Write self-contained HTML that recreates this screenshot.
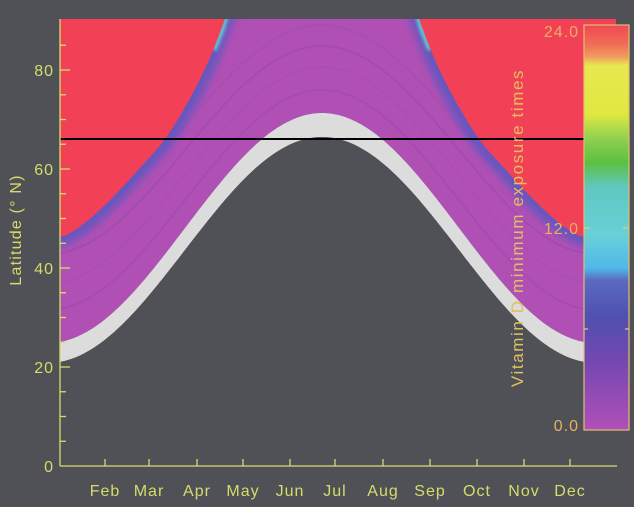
<!DOCTYPE html>
<html><head><meta charset="utf-8">
<style>
html,body{margin:0;padding:0;background:#4f5157;}
svg{display:block;}
text{font-family:"Liberation Sans","DejaVu Sans",sans-serif;}
</style></head>
<body>
<svg id="s" width="634" height="507" viewBox="0 0 634 507" xmlns="http://www.w3.org/2000/svg">
<defs>
<clipPath id="pc"><rect x="60" y="19" width="556" height="447"/></clipPath>
<filter id="bl" x="-20%" y="-20%" width="140%" height="140%"><feGaussianBlur stdDeviation="4"/></filter>
<filter id="bl2" x="-20%" y="-20%" width="140%" height="140%"><feGaussianBlur stdDeviation="1.5"/></filter>
<linearGradient id="cb" x1="0" y1="0" x2="0" y2="1">
<stop offset="0" stop-color="#f04852"/>
<stop offset="0.05" stop-color="#f07058"/>
<stop offset="0.08" stop-color="#f0a060"/>
<stop offset="0.10" stop-color="#e8e850"/>
<stop offset="0.22" stop-color="#e0e840"/>
<stop offset="0.28" stop-color="#90d050"/>
<stop offset="0.34" stop-color="#5cc040"/>
<stop offset="0.40" stop-color="#60c8c0"/>
<stop offset="0.52" stop-color="#68d0d8"/>
<stop offset="0.60" stop-color="#50b8e8"/>
<stop offset="0.63" stop-color="#5a6ac0"/>
<stop offset="0.72" stop-color="#5050b0"/>
<stop offset="0.82" stop-color="#7048b0"/>
<stop offset="1" stop-color="#b050b8"/>
</linearGradient>
</defs>
<g clip-path="url(#pc)" id="plot"></g>
<line x1="60" y1="139" x2="584" y2="139" stroke="#000" stroke-width="2"/>
<g stroke="#d6dc6a" stroke-width="1.3" fill="none" id="axes">
<line x1="60" y1="19" x2="60" y2="466"/>
<line x1="60" y1="466" x2="617" y2="466"/>
</g>
<g fill="#d6dc6a" font-size="16" text-anchor="end" letter-spacing="1">
<text x="54" y="472">0</text>
<text x="54" y="373">20</text>
<text x="54" y="274">40</text>
<text x="54" y="175">60</text>
<text x="54" y="76">80</text>
</g>
<text transform="translate(21,230) rotate(-90)" fill="#d6dc6a" font-size="16" letter-spacing="1.2" text-anchor="middle">Latitude (° N)</text>
<g fill="#d6dc6a" font-size="16" text-anchor="middle" letter-spacing="1">
<text x="105" y="496">Feb</text><text x="149" y="496">Mar</text><text x="197" y="496">Apr</text>
<text x="243" y="496">May</text><text x="290" y="496">Jun</text><text x="335" y="496">Jul</text>
<text x="383" y="496">Aug</text><text x="430" y="496">Sep</text><text x="477" y="496">Oct</text>
<text x="524" y="496">Nov</text><text x="570" y="496">Dec</text>
</g>
<rect x="584" y="25" width="45" height="405" fill="url(#cb)" stroke="#e0c070" stroke-width="1.2"/>
<g stroke="#e0d070" stroke-width="1.2">
<line x1="584" y1="228" x2="590" y2="228"/><line x1="623" y1="228" x2="629" y2="228"/>
<line x1="584" y1="329" x2="588" y2="329"/><line x1="625" y1="329" x2="629" y2="329"/>
</g>
<g fill="#e8b060" font-size="16" text-anchor="end" letter-spacing="1">
<text x="579" y="37">24.0</text>
<text x="579" y="234">12.0</text>
<text x="579" y="431">0.0</text>
</g>
<text transform="translate(523,228) rotate(-90)" fill="#e0c060" font-size="17" letter-spacing="1.6" text-anchor="middle">Vitamin D minimum exposure times</text>
</svg>
<script>
(function(){
var NS="http://www.w3.org/2000/svg",g=document.getElementById('plot'),ax=document.getElementById('axes');
function el(t,a,p){var e=document.createElementNS(NS,t);for(var k in a)e.setAttribute(k,a[k]);(p||g).appendChild(e);return e;}
var C=322,P=548;
function cosy(x,m,A){return m-A*Math.cos(2*Math.PI*(x-C)/P);}
var d="M60,19 L616,19";
for(var x=616;x>=60;x-=2)d+=" L"+x+","+cosy(x,228,115).toFixed(1);
d+=" Z";el('path',{d:d,fill:'#b050b4'});
[[200,110,'#a048ac'],[175,108,'#a84cb0'],[150,104,'#9c48ac'],[125,100,'#a44cb0']].forEach(function(a){
 var s="";for(var x=60;x<=616;x+=3)s+=(s?" L":"M")+x+","+cosy(x,a[0],a[1]).toFixed(1);
 el('path',{d:s,fill:'none',stroke:a[2],'stroke-width':2,opacity:0.6});});
d="";for(var x=60;x<=616;x+=2)d+=(d?" L":"M")+x+","+cosy(x,228,115).toFixed(1);
for(var x=616;x>=60;x-=2)d+=" L"+x+","+cosy(x,250,113).toFixed(1);
d+=" Z";el('path',{d:d,fill:'#dcdcdc'});
d="";for(var x=60;x<=616;x+=2)d+=(d?" L":"M")+x+","+cosy(x,250,113).toFixed(1);
d+=" L616,466 L60,466 Z";el('path',{d:d,fill:'#4f5157'});
var pts=[[10,94],[19,97],[60,113],[100,133],[139,157],[170,184],[200,212],[222,236],[234,254],[238,268],[240,290]];
function samp(){var out=[];for(var i=0;i<pts.length-1;i++){var p0=pts[Math.max(0,i-1)],p1=pts[i],p2=pts[i+1],p3=pts[Math.min(pts.length-1,i+2)];
 for(var t=0;t<1;t+=0.1){var t2=t*t,t3=t2*t;var f=function(a,b,c,dd){return 0.5*((2*b)+(-a+c)*t+(2*a-5*b+4*c-dd)*t2+(-a+3*b-3*c+dd)*t3);};
 out.push([f(p0[0],p1[0],p2[0],p3[0]),f(p0[1],p1[1],p2[1],p3[1])]);}}out.push(pts[pts.length-1]);return out;}
var sp=samp(),L="",R="";
sp.forEach(function(p,i){L+=(i?" L":"M")+(C-p[1]).toFixed(1)+","+p[0].toFixed(1);R+=(i?" L":"M")+(C+p[1]).toFixed(1)+","+p[0].toFixed(1);});
el('path',{d:L,fill:'none',stroke:'#5a58c0','stroke-width':18,filter:'url(#bl)',opacity:0.85});
el('path',{d:R,fill:'none',stroke:'#5a58c0','stroke-width':18,filter:'url(#bl)',opacity:0.85});
el('path',{d:"M"+(C-94)+",10 L"+(C-100)+",30 L"+(C-108)+",50",fill:'none',stroke:'#60c8d0','stroke-width':5,filter:'url(#bl2)'});
el('path',{d:"M"+(C+94)+",10 L"+(C+100)+",30 L"+(C+108)+",50",fill:'none',stroke:'#60c8d0','stroke-width':5,filter:'url(#bl2)'});
el('path',{d:"M40,0 "+L.replace('M','L')+" L40,240 Z",fill:'#f24156'});
el('path',{d:"M640,0 "+R.replace('M','L')+" L640,240 Z",fill:'#f24156'});
for(var v=5;v<=85;v+=5){var y=466-v*4.95;el('line',{x1:60,y1:y,x2:(v%20==0?70:66),y2:y},ax);}
[105,149,197,243,290,335,383,430,477,524,570].forEach(function(x){el('line',{x1:x,y1:466,x2:x,y2:459},ax);});
})();
</script>
</body></html>
